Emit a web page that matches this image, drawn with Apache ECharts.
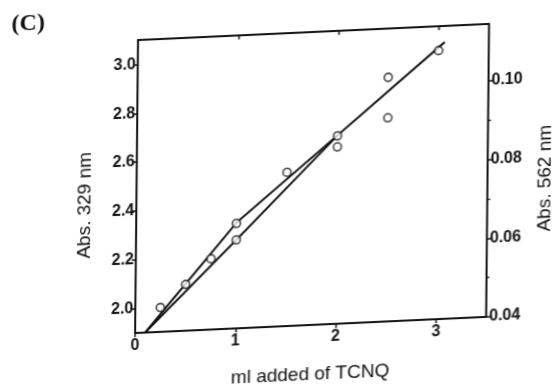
<!DOCTYPE html>
<html lang="en">
  <head>
    <meta charset="UTF-8" />
    <title>TCNQ titration</title>
    <script src="https://cdn.jsdelivr.net/npm/echarts@6/dist/echarts.min.js"></script>
    <style>
      html, body { margin: 0; padding: 0; background: #fff; overflow: hidden; }
      /* the scanned figure is slightly skewed, so skew the whole chart */
      #main {
        width: 600px; height: 430px;
        transform: matrix(1, -0.046, -0.01, 1, 0, 0);
        transform-origin: 138px 40px;
      }
    </style>
  </head>
  <body>
    <div id="main"></div>
    <script type="text/javascript">
      // ml of TCNQ added and absorbances
      const x329 = [0.25, 0.5, 0.75, 1.0, 1.5, 2.0, 2.5, 3.0];
      const abs329 = [2.0, 2.09, 2.19, 2.33, 2.53, 2.67, 2.9, 3.0];
      const x562 = [1.0, 2.0, 2.5];
      const abs562 = [0.0625, 0.085, 0.0918];

      // drawn straight-line segments
      const fit329X = [0.1, 1.0, 2.0, 3.06];
      const fit329Y = [1.9, 2.333, 2.672, 3.034];
      const fit562X = [0.1, 1.0, 2.0];
      const fit562Y = [0.04, 0.0625, 0.0879];

      // tick labels
      const xTicks = [0, 1, 2, 3];
      const leftTicks = [2.0, 2.2, 2.4, 2.6, 2.8, 3.0];
      const rightTicks = [0.04, 0.06, 0.08, 0.1];
      const rightMinor = [0.05, 0.07, 0.09];

      const pairs = (xs, ys) => xs.map((x, i) => [x, ys[i]]);

      const ink = "#111";
      const tickFont = { color: ink, fontFamily: "Liberation Sans", fontWeight: "bold", fontSize: 16 };

      let myChart = echarts.init(document.getElementById("main"));

      let options = {
        animation: false,
        backgroundColor: "#fff",
        grid: { left: 138, top: 40, width: 351, height: 293 },
        xAxis: [
          {
            type: "value", position: "bottom", min: 0, max: 3.5,
            splitLine: { show: false },
            axisLine: { show: true, onZero: false, lineStyle: { color: ink, width: 2 } },
            axisTick: { show: true, customValues: xTicks, length: 4, lineStyle: { color: ink, width: 1.5 } },
            axisLabel: { customValues: xTicks, margin: 5, ...tickFont },
            name: "ml added of TCNQ", nameLocation: "middle", nameGap: 40,
            nameTextStyle: { color: ink, fontFamily: "Liberation Sans", fontSize: 19 },
          },
          {
            type: "value", position: "top", min: 0, max: 3.5,
            splitLine: { show: false },
            axisLine: { show: true, onZero: false, lineStyle: { color: ink, width: 2 } },
            axisTick: { show: true, inside: true, customValues: [1, 2, 3], length: 4, lineStyle: { color: ink, width: 1.5 } },
            axisLabel: { show: false },
          },
        ],
        yAxis: [
          {
            type: "value", position: "left", min: 1.9, max: 3.1,
            splitLine: { show: false },
            axisLine: { show: true, onZero: false, lineStyle: { color: ink, width: 2 } },
            axisTick: { show: true, customValues: leftTicks, length: 4, lineStyle: { color: ink, width: 1.5 } },
            axisLabel: { customValues: leftTicks, margin: 2, formatter: (v) => v.toFixed(1), ...tickFont },
          },
          {
            type: "value", position: "right", min: 0.04, max: 0.1145,
            splitLine: { show: false },
            axisLine: { show: true, onZero: false, lineStyle: { color: ink, width: 2 } },
            axisTick: { show: true, customValues: rightTicks, length: 5, lineStyle: { color: ink, width: 1.5 } },
            axisLabel: { customValues: rightTicks, margin: 3, formatter: (v) => v.toFixed(2), ...tickFont },
          },
          {
            // minor ticks on the right axis
            type: "value", position: "right", min: 0.04, max: 0.1145,
            splitLine: { show: false },
            axisLine: { show: false, onZero: false },
            axisTick: { show: true, customValues: rightMinor, length: 3, lineStyle: { color: ink, width: 1.2 } },
            axisLabel: { show: false },
          },
        ],
        graphic: [
          {
            type: "text", x: 28, y: 19,
            style: { text: "(C)", fill: ink, font: "bold 24px 'Liberation Serif'", align: "center", verticalAlign: "middle" },
          },
          {
            type: "text", x: 87, y: 203, rotation: Math.PI / 2,
            style: { text: "Abs. 329 nm", fill: ink, font: "19px 'Liberation Sans'", align: "center", verticalAlign: "middle" },
          },
          {
            type: "text", x: 547, y: 197, rotation: Math.PI / 2,
            style: { text: "Abs. 562 nm", fill: ink, font: "19px 'Liberation Sans'", align: "center", verticalAlign: "middle" },
          },
        ],
        series: [
          {
            name: "fit 329", type: "line", xAxisIndex: 0, yAxisIndex: 0,
            data: pairs(fit329X, fit329Y), symbol: "none",
            lineStyle: { color: ink, width: 2 }, z: 2,
          },
          {
            name: "fit 562", type: "line", xAxisIndex: 0, yAxisIndex: 1,
            data: pairs(fit562X, fit562Y), symbol: "none",
            lineStyle: { color: ink, width: 2 }, z: 2,
          },
          {
            name: "Abs. 329 nm", type: "scatter", xAxisIndex: 0, yAxisIndex: 0,
            data: pairs(x329, abs329), symbol: "circle", symbolSize: 8,
            itemStyle: { color: "#fff", borderColor: ink, borderWidth: 1.6 }, z: 3,
          },
          {
            name: "Abs. 562 nm", type: "scatter", xAxisIndex: 0, yAxisIndex: 1,
            data: pairs(x562, abs562), symbol: "circle", symbolSize: 8,
            itemStyle: { color: "#fff", borderColor: ink, borderWidth: 1.6 }, z: 3,
          },
        ],
      };

      myChart.setOption(options);
    </script>
  </body>
</html>
